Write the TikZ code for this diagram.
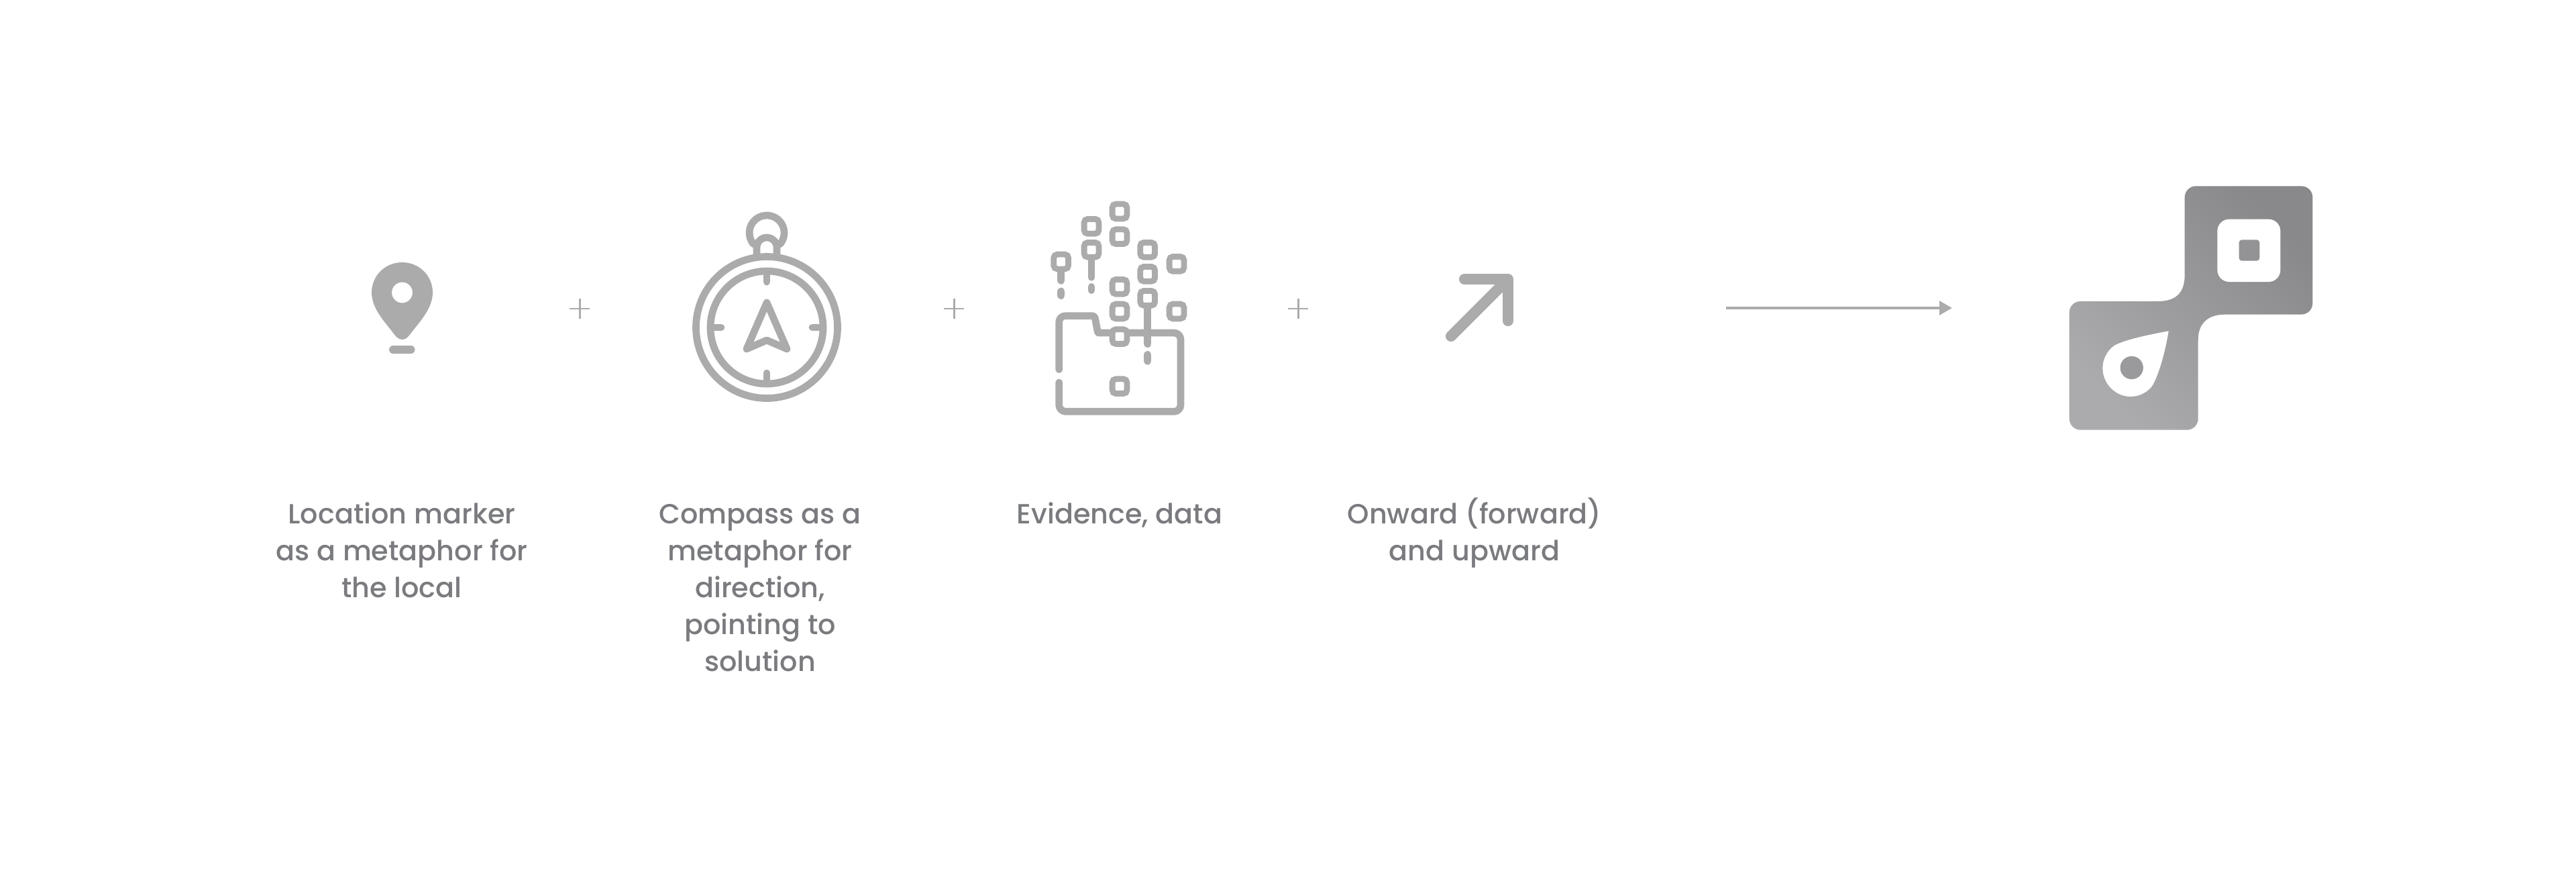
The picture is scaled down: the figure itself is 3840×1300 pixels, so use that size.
\documentclass[tikz,border=0pt]{standalone}
\usepackage{fontspec}
\setmainfont{Poppins}[UprightFont=* Medium]
\usetikzlibrary{arrows.meta}
\definecolor{icon}{HTML}{ABABAC}
\definecolor{labeltxt}{HTML}{7A7B7E}
\definecolor{lgA}{HTML}{ABABAD}
\definecolor{lgB}{HTML}{89898C}
\tikzset{
  iconline/.style={draw=icon,line width=3.05pt,line cap=round,line join=round},
  thickicon/.style={draw=icon,line width=4.6pt,line cap=round,line join=round},
  plusline/.style={draw=icon,line width=0.85pt},
  longarrow/.style={draw=icon,line width=1.4pt,-{Triangle[length=5.4pt,width=5.8pt]}},
  datasq/.style={draw=icon,line width=2.5pt,fill=white,rounded corners=1.5pt,minimum size=6.2pt,inner sep=0pt,outer sep=0pt},
  lbl/.style={text=labeltxt,align=center,anchor=north,inner sep=0pt,font=\fontsize{11.75}{15.65}\selectfont}
}
\newcommand{\firstline}{\rule{0pt}{13pt}}
\begin{document}
\begin{tikzpicture}[x=0.01cm,y=-0.01cm]
\useasboundingbox[fill=white] (0,0) rectangle (3840,1300);
% location pin
\fill[icon,even odd rule] (599.5,506) .. controls (593,506) and (590,501) .. (586,496)
  .. controls (574,480) and (554,460) .. (554,436)
  .. controls (554,411) and (574,391) .. (599.5,391)
  .. controls (625,391) and (645,411) .. (645,436)
  .. controls (645,460) and (625,480) .. (613,496)
  .. controls (609,501) and (606,506) .. (599.5,506) -- cycle
  (615,436) arc[start angle=0,end angle=360,radius=15.5];
\fill[icon,rounded corners=1.7pt] (580,515) rectangle (618.5,527);
% plus signs
\draw[plusline] (849,460) -- (879,460) (864,445) -- (864,475);
\draw[plusline] (1407,460) -- (1437,460) (1422,445) -- (1422,475);
\draw[plusline] (1920,460) -- (1950,460) (1935,445) -- (1935,475);
% compass
\draw[iconline] (1143,488) circle[radius=105.5];
\draw[iconline] (1143,488) circle[radius=84];
\draw[iconline] (1123.1,363.7) arc[start angle=140,end angle=400,radius=26];
\draw[iconline] (1128,380) -- (1128,369) arc[start angle=180,end angle=360,radius=15] -- (1158,380);
\draw[iconline] (1143,408) -- (1143,420) (1143,568) -- (1143,556)
  (1063,488) -- (1075,488) (1223,488) -- (1211,488);
\draw[iconline] (1143,451) -- (1113,520) -- (1143,507) -- (1173,520) -- cycle;
% folder and data
\begin{scope}[shift={(1530,280)},scale=0.33333]
\draw[iconline] (146,812) -- (146,600) arc[start angle=180,end angle=270,radius=28] -- (296,572) .. controls (304,572) and (306,578) .. (308,586) -- (318,640) -- (322,648) -- (660,648) arc[start angle=270,end angle=360,radius=30] -- (690,970) arc[start angle=0,end angle=90,radius=30] -- (176,1000) arc[start angle=90,end angle=180,radius=30] -- (146,870);
\draw[iconline] (155,375) -- (155,415) (155,462) -- (155,482);
\draw[iconline] (291,320) -- (291,400) (291,442) -- (291,458);
\draw[iconline] (542,540) -- (542,698) (542,745) -- (542,775);
\foreach \p [count=\i] in {(417,105),(417,218),(291,172),(291,277),(155,330),(542,277),(542,385),(542,493),(672,340),(672,552),(417,442),(417,552),(417,665),(417,887)}
  \node[datasq] (sq\i) at \p {};
\end{scope}
% onward arrow
\draw[thickicon] (2183,416) -- (2248,416) -- (2248,478);
\draw[thickicon] (2163,501) -- (2246,418);
% long arrow
\coordinate (arrowstart) at (2573,459);
\coordinate (arrowend) at (2910,459);
\draw[longarrow] (arrowstart) -- (arrowend);
% logo
\begin{scope}[shift={(3050,250)},scale=0.33333]
\shade[bottom color=lgA,top color=lgB,shading angle=-45]
  (620,132) arc[start angle=180,end angle=270,radius=50] -- (1142,82)
  arc[start angle=270,end angle=360,radius=50] -- (1192,606)
  arc[start angle=0,end angle=90,radius=50] -- (800,656)
  .. controls (730,656) and (680,690) .. (680,770) -- (680,1122)
  arc[start angle=0,end angle=90,radius=50] -- (154,1172)
  arc[start angle=90,end angle=180,radius=50] -- (104,647)
  arc[start angle=180,end angle=270,radius=50] -- (500,597)
  .. controls (580,597) and (620,560) .. (620,480) -- cycle;
\fill[white,rounded corners=5pt] (766,230) rectangle (1048,510);
\fill[fill=lgB!70!lgA,rounded corners=1.2pt] (863,322) rectangle (955,416);
\fill[white] (548,730) .. controls (450,748) and (350,770) .. (305,795)
  .. controls (270,820) and (253,860) .. (253,895)
  .. controls (253,965) and (310,1023) .. (378,1023)
  .. controls (420,1023) and (460,1000) .. (478,970)
  .. controls (510,910) and (535,810) .. (548,730) -- cycle;
\fill[lgA!90!black] (383,894) circle[radius=51.5];
\end{scope}
% labels
\node[lbl] (loc) at (599,734.3) {\firstline Location marker\\as a metaphor for\\the local};
\node[lbl] (comp) at (1133,734.3) {\firstline Compass as a\\metaphor for\\direction,\\pointing to\\solution};
\node[lbl] (evid) at (1669,734.3) {\firstline Evidence, data};
\node[lbl] (onw) at (2198,734.3) {\firstline Onward (forward)\\and upward};
\end{tikzpicture}
\end{document}
